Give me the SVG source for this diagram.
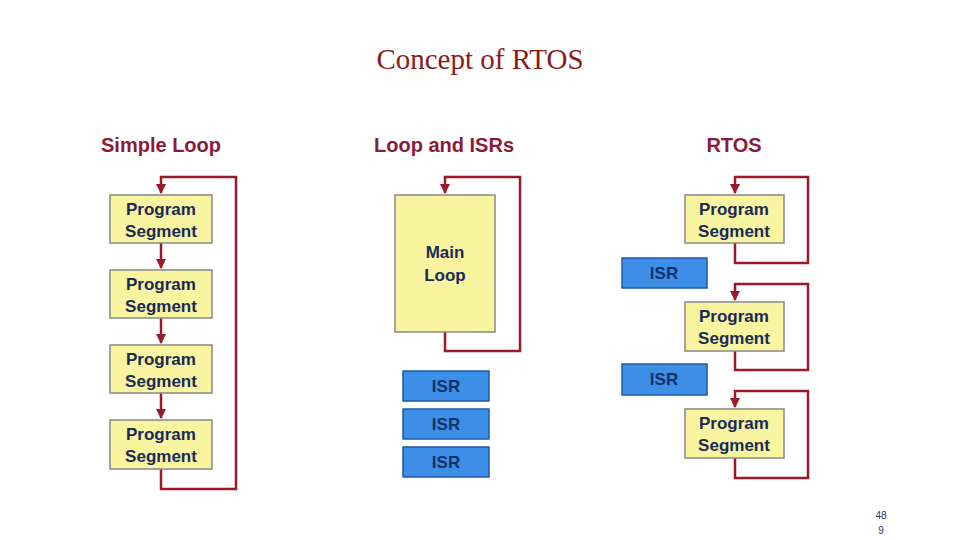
<svg xmlns="http://www.w3.org/2000/svg" width="960" height="540" viewBox="0 0 960 540">
<defs>
<style>
.seg{fill:#f8f4a0;stroke:#888;stroke-width:1.5}
.isr{fill:#3c8ee6;stroke:#1d5aa8;stroke-width:1.5}
.t{font-family:"Liberation Sans",Arial,sans-serif;font-weight:bold;font-size:17px;fill:#1a2a55;text-anchor:middle}
.ti{font-family:"Liberation Sans",Arial,sans-serif;font-weight:bold;font-size:17px;fill:#12306a;text-anchor:middle}
.h{font-family:"Liberation Sans",Arial,sans-serif;font-weight:bold;font-size:20px;fill:#8b1a3a;text-anchor:middle}
.c{fill:none;stroke:#9b1a2a;stroke-width:2.5}
</style>
<marker id="a" viewBox="0 0 10 10" refX="9" refY="5" markerWidth="4" markerHeight="4" orient="auto"><path d="M0,0L10,5L0,10z" fill="#9b1a2a"/></marker>
</defs>
<rect width="960" height="540" fill="#fff"/>
<text x="480" y="69" font-family="Liberation Serif,serif" font-size="29" fill="#8b1a1a" text-anchor="middle">Concept of RTOS</text>
<text class="h" x="161" y="152">Simple Loop</text>
<text class="h" x="444" y="152">Loop and ISRs</text>
<text class="h" x="734" y="152">RTOS</text>
<g id="connectors">
<path class="c" d="M161,469V489H236V177H161V193" marker-end="url(#a)"/>
<path class="c" d="M161,243V268" marker-end="url(#a)"/>
<path class="c" d="M161,318V343" marker-end="url(#a)"/>
<path class="c" d="M161,393V418" marker-end="url(#a)"/>
<path class="c" d="M445,332V351H520V177H445V193" marker-end="url(#a)"/>
<path class="c" d="M735,243V263H808V177H735V193" marker-end="url(#a)"/>
<path class="c" d="M735,351V370H808V284H735V300" marker-end="url(#a)"/>
<path class="c" d="M735,458V478H808V391H735V407" marker-end="url(#a)"/>
</g>
<g id="s1"><rect class="seg" x="110" y="195" width="102" height="48"/><text class="t" x="161" y="215">Program</text><text class="t" x="161" y="237">Segment</text></g>
<g id="s2"><rect class="seg" x="110" y="270" width="102" height="48"/><text class="t" x="161" y="290">Program</text><text class="t" x="161" y="312">Segment</text></g>
<g id="s3"><rect class="seg" x="110" y="345" width="102" height="48"/><text class="t" x="161" y="365">Program</text><text class="t" x="161" y="387">Segment</text></g>
<g id="s4"><rect class="seg" x="110" y="420" width="102" height="49"/><text class="t" x="161" y="440">Program</text><text class="t" x="161" y="462">Segment</text></g>
<g id="main"><rect class="seg" x="395" y="195" width="100" height="137"/><text class="t" x="445" y="258">Main</text><text class="t" x="445" y="281">Loop</text></g>
<g id="i1"><rect class="isr" x="403" y="371" width="86" height="30"/><text class="ti" x="446" y="392">ISR</text></g>
<g id="i2"><rect class="isr" x="403" y="409" width="86" height="30"/><text class="ti" x="446" y="430">ISR</text></g>
<g id="i3"><rect class="isr" x="403" y="447" width="86" height="30"/><text class="ti" x="446" y="468">ISR</text></g>
<g id="r1"><rect class="seg" x="685" y="195" width="99" height="48"/><text class="t" x="734" y="215">Program</text><text class="t" x="734" y="237">Segment</text></g>
<g id="r2"><rect class="seg" x="685" y="302" width="99" height="49"/><text class="t" x="734" y="322">Program</text><text class="t" x="734" y="344">Segment</text></g>
<g id="r3"><rect class="seg" x="685" y="409" width="99" height="49"/><text class="t" x="734" y="429">Program</text><text class="t" x="734" y="451">Segment</text></g>
<g id="ri1"><rect class="isr" x="622" y="258" width="85" height="30"/><text class="ti" x="664" y="279">ISR</text></g>
<g id="ri2"><rect class="isr" x="622" y="364" width="85" height="31"/><text class="ti" x="664" y="385">ISR</text></g>
<text x="881" y="519" font-family="Liberation Sans,sans-serif" font-size="10" fill="#333366" text-anchor="middle">48</text>
<text x="881" y="534" font-family="Liberation Sans,sans-serif" font-size="10" fill="#333366" text-anchor="middle">9</text>
</svg>
